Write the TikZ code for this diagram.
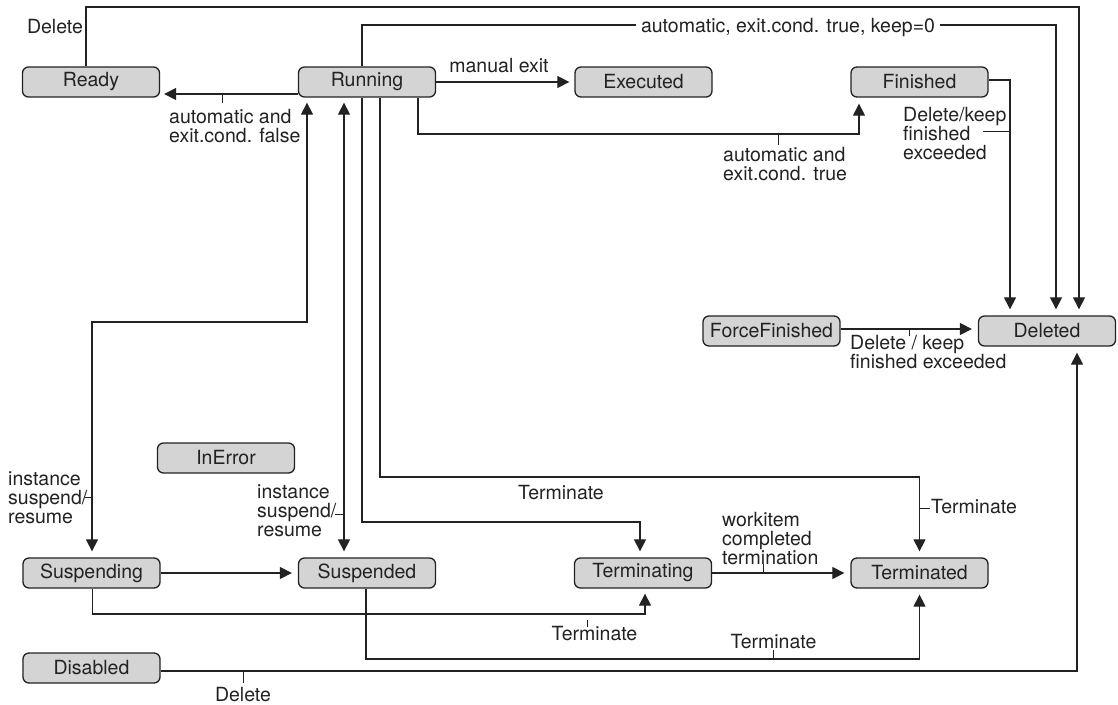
\documentclass[tikz,border=0pt]{standalone}
\usepackage{fontspec}
\setmainfont{TeX Gyre Heros}
\usetikzlibrary{arrows.meta}
\definecolor{boxfill}{HTML}{D4D4D4}
\definecolor{ink}{HTML}{222222}
\begin{document}
\begin{tikzpicture}[x=1pt,y=-1pt,
  state/.style={draw=ink, fill=boxfill, rounded corners=6pt, line width=1.3pt,
    minimum width=137pt, minimum height=30pt, inner sep=0pt, text=ink,
    font=\fontsize{19.5}{19}\selectfont},
  conn/.style={draw=ink, line width=1.2pt},
  arr/.style={conn, -{Triangle[length=12pt,width=12pt]}, shorten >=6pt},
  darr/.style={conn, {Triangle[length=12pt,width=12pt]}-{Triangle[length=12pt,width=12pt]},
    shorten >=6pt, shorten <=5pt},
  lbl/.style={text=ink, font=\fontsize{19.5}{19}\selectfont, inner sep=0pt, align=left, anchor=north west},
  lblc/.style={text=ink, font=\fontsize{19.5}{19}\selectfont, inner sep=0pt, anchor=base},
  tick/.style={draw=ink, line width=1pt}]
\useasboundingbox (0,0) rectangle (1118,704);

% states
\node[state] (ready)    at (91,82)    {Ready};
\node[state] (running)  at (367,82)   {Running};
\node[state] (executed) at (643.5,82) {Executed};
\node[state] (finished) at (919.5,82) {Finished};
\node[state] (force)    at (771.5,331) {ForceFinished};
\node[state] (deleted)  at (1047,331) {Deleted};
\node[state] (inerror)  at (226,458)  {InError};
\node[state] (suspending) at (91.5,573) {Suspending};
\node[state] (suspended)  at (367,573)  {Suspended};
\node[state] (terminating) at (643,573) {Terminating};
\node[state] (terminated)  at (919.5,573) {Terminated};
\node[state] (disabled)   at (91.5,668) {Disabled};

% Ready -> Deleted
\draw[arr] ([xshift=-5pt]ready.north) -- (86,7) -- (1079,7) -- ([xshift=32pt]deleted.north);
\node[lblc] (lDelA) at (55,33) {Delete};

% Running -> Deleted (keep=0)
\draw[arr] ([xshift=-5pt]running.north) -- (362,25) -- (1056,25) -- ([xshift=9pt]deleted.north);
\node[lblc, fill=white, inner xsep=5pt] (lKeep) at (788,32) {automatic, exit.cond. true, keep=0};

% Running -> Ready
\draw[arr, shorten >=4pt] ([yshift=-12pt]running.west) -- ([yshift=-12pt]ready.east);
\draw[tick] (222,94) -- (222,103);
\node[lbl] (lAutoF) at (169,109) {automatic and\\exit.cond. false};

% Running -> Executed
\draw[arr, shorten >=5pt] (running.east) -- (executed.west);
\node[lblc] (lManual) at (499,72) {manual exit};

% Running -> Finished
\draw[arr] ([xshift=51pt]running.south) -- (418,134) -- (859,134) -- ([xshift=-60.5pt]finished.south);
\draw[tick] (778,134) -- (778,145);
\node[lbl] (lAutoT) at (723,147) {automatic and\\exit.cond. true};

% Finished -> Deleted
\draw[arr] ([yshift=2pt]finished.east) -- (1010,80) -- ([xshift=-37pt]deleted.north);
\draw[tick] (983,131) -- (1010,131);
\node[lbl] (lFin) at (903,107) {Delete/keep\\finished\\exceeded};

% ForceFinished -> Deleted
\draw[arr] ([yshift=2pt]force.east) -- ([yshift=2pt]deleted.west);
\draw[tick] (909,329) -- (909,336);
\node[lbl] (lForce) at (850,335) {Delete / keep\\finished exceeded};

% Disabled -> Deleted
\draw[arr] ([yshift=-3pt]disabled.east) -- (1077,671) -- ([xshift=30pt]deleted.south);
\draw[tick] (243,671) -- (243,683);
\node[lblc] (lDelB) at (243,701) {Delete};

% Running <-> Suspending
\draw[darr] ([xshift=-60pt]running.south) -- (307,322) -- (92,322) -- ([xshift=0.5pt]suspending.north);
\draw[tick] (85,497) -- (92,497);
\node[lbl] (lSusA) at (8,472) {instance\\suspend/\\resume};

% Running <-> Suspended
\draw[darr] ([xshift=-23pt]running.south) -- ([xshift=-23pt]suspended.north);
\draw[tick] (335,514) -- (344,514);
\node[lbl] (lSusB) at (257,485) {instance\\suspend/\\resume};

% Running -> Terminated
\draw[arr] ([xshift=13pt]running.south) -- (380,477) -- (919.5,477) -- (terminated.north);
\node[lblc] (lTermA) at (561,499) {Terminate};
\draw[tick] (919.5,508) -- (930,508);
\node[lblc, anchor=base west] (lTermB) at (931,513) {Terminate};

% Running -> Terminating
\draw[arr] ([xshift=-5pt]running.south) -- (362,522) -- (640,522) -- ([xshift=-3pt]terminating.north);

% Suspending -> Suspended
\draw[arr] (suspending.east) -- (suspended.west);

% Suspending -> Terminating
\draw[arr, shorten >=5pt] ([xshift=1pt]suspending.south) -- (92.5,614) -- (645,614) -- ([xshift=2pt]terminating.south);
\draw[tick] (587,620) -- (587,627);
\node[lblc] (lTermC) at (594.5,640) {Terminate};

% Suspended -> Terminated
\draw[arr] ([xshift=-1pt]suspended.south) -- (366,659) -- (919.5,659) -- (terminated.south);
\draw[tick] (773,659) -- (773,650);
\node[lblc] (lTermD) at (773.5,648) {Terminate};

% Terminating -> Terminated
\draw[arr] (terminating.east) -- (terminated.west);
\draw[tick] (763,573) -- (763,564);
\node[lbl] (lWork) at (722,512) {workitem\\completed\\termination};
\end{tikzpicture}
\end{document}
